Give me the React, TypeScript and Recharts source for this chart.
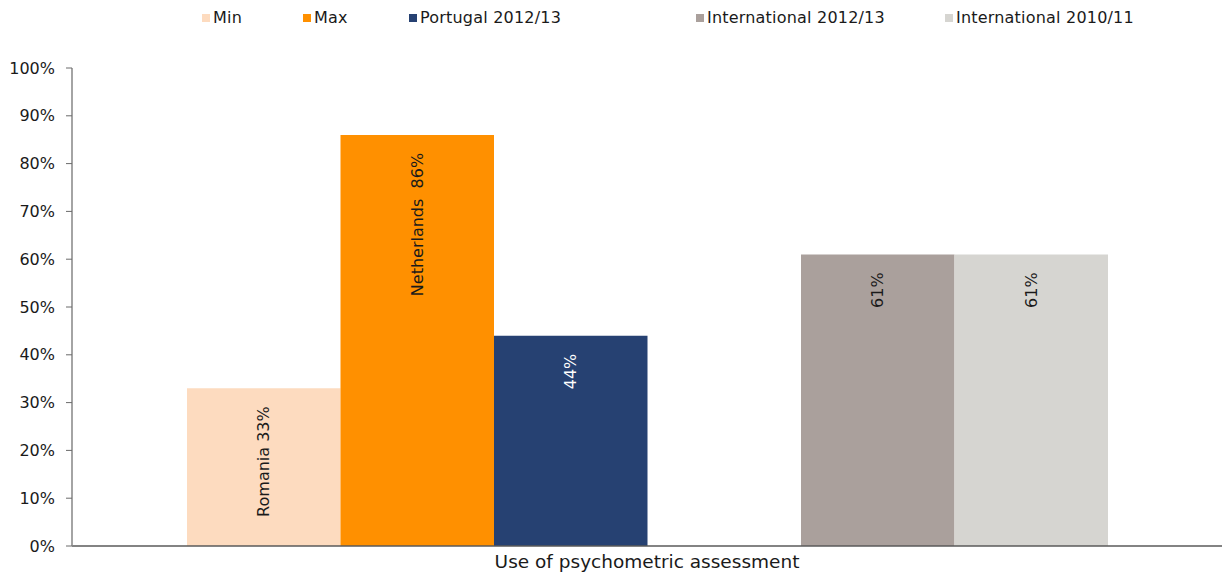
import React from "react";
import { BarChart, Bar, XAxis, YAxis, Legend, LabelList } from "recharts";

const categories = ["Use of psychometric assessment"];
const minValues = [33];
const maxValues = [86];
const portugalValues = [44];
const intl1213Values = [61];
const intl1011Values = [61];
const minCountries = ["Romania"];
const maxCountries = ["Netherlands"];
const yTicks = [0, 10, 20, 30, 40, 50, 60, 70, 80, 90, 100];

const seriesNames = {
  min: "Min",
  max: "Max",
  portugal: "Portugal 2012/13",
  intl1213: "International 2012/13",
  intl1011: "International 2010/11",
};

const colors = {
  min: "#FDDBBF",
  max: "#FF9000",
  portugal: "#264172",
  intl1213: "#AAA09C",
  intl1011: "#D6D5D1",
};

const data = categories.map((c, i) => ({
  category: c,
  min: minValues[i],
  max: maxValues[i],
  portugal: portugalValues[i],
  blank: null,
  intl1213: intl1213Values[i],
  intl1011: intl1011Values[i],
}));

const FONT = "'DejaVu Sans', Verdana, sans-serif";

const legendLeft: Record<string, number> = {
  min: 202,
  max: 303,
  portugal: 409,
  intl1213: 696,
  intl1011: 945,
};

const LegendContent = (props: any) => {
  const payload = (props.payload || []).filter((p: any) => p.type !== "none");
  return (
    <div style={{ position: "relative", height: 0 }}>
      {payload.map((p: any) => {
        const key = p.dataKey as string;
        return (
          <div
            key={key}
            style={{
              position: "absolute",
              left: legendLeft[key],
              top: 8,
              display: "flex",
              alignItems: "center",
              fontFamily: FONT,
              fontSize: 16,
              color: "#1a1a1a",
              whiteSpace: "nowrap",
              lineHeight: "20px",
              letterSpacing: 0.2,
            }}
          >
            <span
              style={{
                display: "inline-block",
                width: 8,
                height: 8,
                background: p.color,
                marginRight: 3,
              }}
            />
            {p.value}
          </div>
        );
      })}
    </div>
  );
};

const makeLabel =
  (fmt: (v: number, i: number) => string, fill: string) => (props: any) => {
    const { x, y, width, value, index } = props;
    if (value == null) return null;
    const cx = Number(x) + Number(width) / 2;
    const ty = Number(y) + 18;
    return (
      <text
        x={cx}
        y={ty}
        transform={`rotate(-90 ${cx} ${ty})`}
        textAnchor="end"
        dominantBaseline="central"
        fontFamily={FONT}
        fontSize={16}
        fill={fill}
        style={{ whiteSpace: "pre" }}
      >
        {fmt(value, index)}
      </text>
    );
  };

export default function App() {
  return (
    <div style={{ position: "absolute", left: 0, top: 0 }}>
      <BarChart
        width={1224}
        height={573}
        data={data}
        margin={{ top: 68, right: 2, bottom: 0, left: 0 }}
        barGap={0}
        barSize={153.5}
      >
        <Legend verticalAlign="top" align="left" content={<LegendContent />} wrapperStyle={{ top: 0, left: 0, width: 1224 }} />
        <XAxis
          dataKey="category"
          height={27}
          tickLine={false}
          tickSize={0}
          tickMargin={9}
          axisLine={{ stroke: "#5a5a5a", strokeWidth: 1.5 }}
          tick={{ fontFamily: FONT, fontSize: 18.5, fill: "#1a1a1a" }}
        />
        <YAxis
          width={72}
          domain={[0, 100]}
          ticks={yTicks}
          interval={0}
          tickFormatter={(v: number) => `${v}%`}
          tickSize={6}
          tickMargin={11}
          axisLine={{ stroke: "#868686", strokeWidth: 1.5 }}
          tickLine={{ stroke: "#6a6a6a" }}
          tick={{ fontFamily: FONT, fontSize: 16, fill: "#1a1a1a" }}
        />
        <Bar dataKey="min" name={seriesNames.min} fill={colors.min} isAnimationActive={false}>
          <LabelList dataKey="min" content={makeLabel((v, i) => `${minCountries[i]} ${v}%`, "#1a1a1a")} />
        </Bar>
        <Bar dataKey="max" name={seriesNames.max} fill={colors.max} isAnimationActive={false}>
          <LabelList dataKey="max" content={makeLabel((v, i) => `${maxCountries[i]}  ${v}%`, "#1a1a1a")} />
        </Bar>
        <Bar dataKey="portugal" name={seriesNames.portugal} fill={colors.portugal} isAnimationActive={false}>
          <LabelList dataKey="portugal" content={makeLabel((v) => `${v}%`, "#ffffff")} />
        </Bar>
        <Bar dataKey="blank" name="" fill="transparent" legendType="none" isAnimationActive={false} />
        <Bar dataKey="intl1213" name={seriesNames.intl1213} fill={colors.intl1213} isAnimationActive={false}>
          <LabelList dataKey="intl1213" content={makeLabel((v) => `${v}%`, "#1a1a1a")} />
        </Bar>
        <Bar dataKey="intl1011" name={seriesNames.intl1011} fill={colors.intl1011} isAnimationActive={false}>
          <LabelList dataKey="intl1011" content={makeLabel((v) => `${v}%`, "#1a1a1a")} />
        </Bar>
      </BarChart>
    </div>
  );
}
